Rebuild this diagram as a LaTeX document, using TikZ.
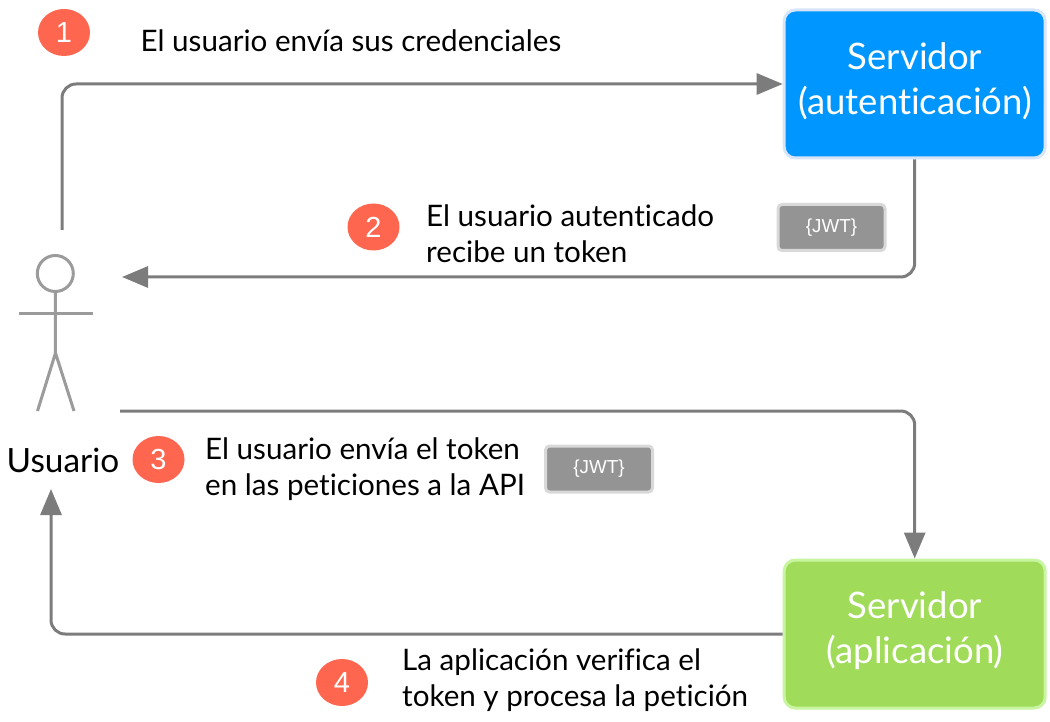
\documentclass[tikz,border=0pt]{standalone}
\usepackage{fontspec}
\setmainfont{Lato}[Ligatures=NoCommon]
\newfontfamily\jwtfont{Liberation Sans}
\usetikzlibrary{arrows.meta,shapes.geometric}
\definecolor{linegray}{HTML}{7C7C7C}
\definecolor{actorgray}{HTML}{9B9B9B}
\definecolor{badge}{HTML}{FF664F}
\definecolor{authfill}{HTML}{0096FF}
\definecolor{authedge}{HTML}{D8E4F8}
\definecolor{appfill}{HTML}{A0DC5A}
\definecolor{appedge}{HTML}{C8F5A0}
\tikzset{
  x=1pt,y=-1pt,
  server/.style={draw,line width=3pt,rounded corners=11pt,minimum width=261pt,minimum height=148pt,inner sep=0pt,align=center,text=white},
  servertext/.style={inner sep=0pt,align=center,text=white,font=\fontsize{36.5}{45}\selectfont},
  conn/.style={draw=linegray,line width=3pt,rounded corners=14pt,-{Triangle[length=26pt,width=21pt,fill=linegray]}},
  stepnum/.style={ellipse,fill=badge,minimum width=52pt,minimum height=47pt,inner sep=0pt,text=white,font=\jwtfont\fontsize{29}{29}\selectfont},
  jwt/.style={rectangle,draw=black!15,fill=black!42,line width=3pt,rounded corners=4pt,minimum width=107pt,minimum height=46pt,inner sep=0pt,text=white,font=\jwtfont\fontsize{18.8}{18.8}\selectfont},
  lbl/.style={anchor=west,align=left,inner sep=0pt,text=black,font=\fontsize{29.6}{36}\selectfont},
  actor/.style={draw=actorgray,line width=3pt}
}
\begin{document}
\begin{tikzpicture}
\useasboundingbox (0,0) rectangle (1050,722);
\node[server,draw=authedge,fill=authfill] (auth) at (914.7,84) {};
\node[server,draw=appedge,fill=appfill] (app) at (914.7,634) {};
\node[servertext] (authlabel) at (915,81) {Servidor\\(autenticación)};
\node[servertext] (applabel) at (915,631) {Servidor\\(aplicación)};
\node[stepnum] (n1) at (64,32.5) {1};
\node[stepnum] (n2) at (373.5,227) {2};
\node[stepnum] (n3) at (158.5,459.5) {3};
\node[stepnum] (n4) at (342,682.5) {4};
\node[jwt] (j1) at (831.5,227.5) {\{JWT\}};
\node[jwt] (j2) at (599,469) {\{JWT\}};
\node[lbl] (t1) at (140.5,41) {El usuario envía sus credenciales};
\node[lbl] (t2) at (426,234) {El usuario autenticado\\recibe un token};
\node[lbl] (t3) at (205,469) {El usuario envía el token\\en las peticiones a la API};
\node[lbl] (t4) at (402,680) {La aplicación verifica el\\token y procesa la petición};
\node[anchor=center,inner sep=0pt,font=\fontsize{33.4}{36}\selectfont] (usr) at (63,460.5) {Usuario};
% actor
\node[circle,actor,minimum size=36pt,inner sep=0pt] (head) at (55.3,273.5) {};
\coordinate (hip) at (55.5,353);
\coordinate (armL) at (19,313);
\coordinate (armR) at (92.5,313);
\coordinate (footL) at (37.5,411);
\coordinate (footR) at (74,411);
\draw[actor] (head.south) -- (hip);
\draw[actor] (armL) -- (armR);
\draw[actor] (footL) -- (hip) -- (footR);
% connectors
\coordinate (c1) at (62,230);
\coordinate (c2) at (122,277);
\coordinate (c3) at (120,411);
\coordinate (c4) at (51,489);
\draw[conn] (c1) |- (auth.west);
\draw[conn] (auth.south) |- (c2);
\draw[conn] (c3) -| (app.north);
\draw[conn] (app.west) -| (c4);
\end{tikzpicture}
\end{document}
